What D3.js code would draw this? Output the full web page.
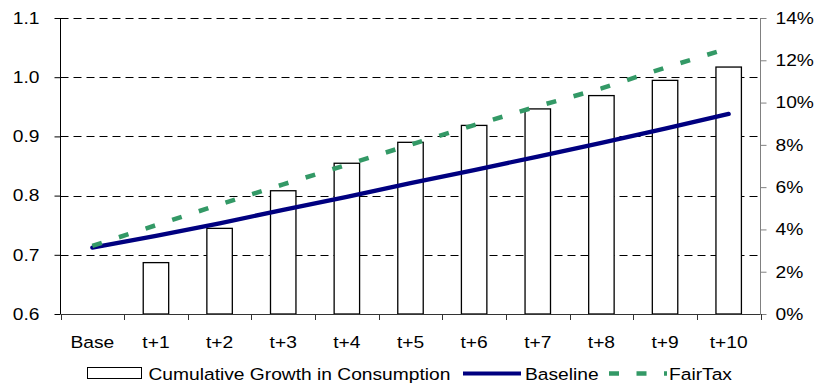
<!DOCTYPE html>
<html>
<head>
<meta charset="utf-8">
<script src="https://cdn.jsdelivr.net/npm/d3@7"></script>
<style>
  html, body { margin: 0; padding: 0; background: #fff; }
  svg { display: block; }
  text { font-family: "Liberation Sans", Arial, sans-serif; font-size: 16.7px; fill: #000; }
</style>
</head>
<body>
<svg id="chart" width="814" height="385"></svg>
<script>
// Categories along the horizontal axis
const categories = ["Base", "t+1", "t+2", "t+3", "t+4", "t+5", "t+6", "t+7", "t+8", "t+9", "t+10"];
// Cumulative growth in consumption, percent (right axis); no bar at Base
const consumptionGrowth = [null, 2.43, 4.05, 5.83, 7.13, 8.12, 8.92, 9.70, 10.33, 11.05, 11.68];
// Index levels (left axis)
const baseline = [0.712, 0.732, 0.753, 0.776, 0.798, 0.821, 0.843, 0.866, 0.889, 0.913, 0.938];
const fairTax  = [0.715, 0.750, 0.785, 0.819, 0.852, 0.886, 0.919, 0.951, 0.981, 1.016, 1.049];
// Tick values
const leftTicks  = [0.6, 0.7, 0.8, 0.9, 1.0, 1.1];
const rightTicks = [0, 2, 4, 6, 8, 10, 12, 14];
// Legend labels
const legendLabels = ["Cumulative Growth in Consumption", "Baseline", "FairTax"];

const SX = 1.15; // horizontal stretch of the lettering
const svg = d3.select("#chart");
const plot = { left: 60.5, right: 760.5, top: 18, bottom: 314 };

const x = d3.scaleBand().domain(categories).range([plot.left, plot.right]).paddingInner(0).paddingOuter(0);
const yL = d3.scaleLinear().domain([0.6, 1.1]).range([plot.bottom, plot.top]);
const yR = d3.scaleLinear().domain([0, 14]).range([plot.bottom, plot.top]);
const cx = c => x(c) + x.bandwidth() / 2;

// Dashed horizontal gridlines
svg.append("g")
  .selectAll("line")
  .data(leftTicks.slice(1))
  .join("line")
  .attr("x1", plot.left).attr("x2", plot.right)
  .attr("y1", d => Math.round(yL(d)) + 0.5).attr("y2", d => Math.round(yL(d)) + 0.5)
  .attr("stroke", "#000").attr("stroke-width", 1)
  .attr("stroke-dasharray", "8,5");

// Bars: cumulative growth (right axis)
const barData = categories.map((c, i) => ({ c, v: consumptionGrowth[i] })).filter(d => d.v != null);
svg.append("g")
  .selectAll("rect")
  .data(barData)
  .join("rect")
  .attr("x", d => x(d.c) + x.bandwidth() * 0.3)
  .attr("width", x.bandwidth() * 0.4)
  .attr("y", d => yR(d.v))
  .attr("height", d => yR(0) - yR(d.v))
  .attr("fill", "#fff")
  .attr("stroke", "#000")
  .attr("stroke-width", 1.3);

function stretchText(sel, xOff) {
  sel.selectAll("text")
    .attr("x", xOff / SX)
    .attr("transform", `scale(${SX},1)`)
    .style("font-size", "16.7px")
    .style("font-family", '"Liberation Sans", Arial, sans-serif')
    .attr("fill", "#000");
}

// Left axis
const gL = svg.append("g").attr("transform", `translate(${plot.left},0)`)
  .call(d3.axisLeft(yL).tickValues(leftTicks).tickFormat(d3.format(".1f")).tickSize(6).tickPadding(15));
gL.select(".domain").attr("stroke", "#000").attr("d", `M0,${plot.top}V${plot.bottom}`);
gL.selectAll(".tick line").attr("stroke", "#000");
stretchText(gL, -21);

// Right axis
const gR = svg.append("g").attr("transform", `translate(${plot.right},0)`)
  .call(d3.axisRight(yR).tickValues(rightTicks).tickFormat(d => d + "%").tickSize(6).tickPadding(9));
gR.select(".domain").attr("stroke", "#808080").attr("d", `M0,${plot.top}V${plot.bottom}`);
gR.selectAll(".tick line").attr("stroke", "#808080");
stretchText(gR, 15);

// Bottom axis: category labels centred in each band, ticks on band boundaries
const gB = svg.append("g").attr("transform", `translate(0,${plot.bottom})`)
  .call(d3.axisBottom(x).tickSize(0).tickPadding(22));
gB.select(".domain").remove();
stretchText(gB, 0);
svg.append("line")
  .attr("x1", plot.left).attr("x2", plot.right)
  .attr("y1", plot.bottom + 0.5).attr("y2", plot.bottom + 0.5)
  .attr("stroke", "#333").attr("stroke-width", 1);
svg.append("g")
  .selectAll("line")
  .data(categories.map(c => x(c)).concat([plot.right]))
  .join("line")
  .attr("x1", d => Math.round(d) + 0.5).attr("x2", d => Math.round(d) + 0.5)
  .attr("y1", plot.bottom).attr("y2", plot.bottom + 6)
  .attr("stroke", "#333");

// Lines (left axis)
const lineGen = d3.line().x(d => cx(d.c)).y(d => yL(d.v));
svg.append("path")
  .datum(categories.map((c, i) => ({ c, v: baseline[i] })))
  .attr("d", lineGen)
  .attr("fill", "none")
  .attr("stroke", "#000080")
  .attr("stroke-width", 4.3)
  .attr("stroke-linecap", "round")
  .attr("stroke-linejoin", "round");
svg.append("path")
  .datum(categories.map((c, i) => ({ c, v: fairTax[i] })))
  .attr("d", lineGen)
  .attr("fill", "none")
  .attr("stroke", "#339966")
  .attr("stroke-width", 4.5)
  .attr("stroke-dasharray", "10,18");

// Legend
const leg = svg.append("g");
const legY = 373.5;
function legendText(xPos, label) {
  leg.append("text")
    .attr("transform", `translate(${xPos},${legY + 6}) scale(${SX},1)`)
    .text(label);
}
leg.append("rect")
  .attr("x", 87.5).attr("y", 367.5).attr("width", 54).attr("height", 11)
  .attr("fill", "#fff").attr("stroke", "#000").attr("stroke-width", 1);
legendText(148.5, legendLabels[0]);
leg.append("line")
  .attr("x1", 463).attr("x2", 521).attr("y1", legY).attr("y2", legY)
  .attr("stroke", "#000080").attr("stroke-width", 4);
legendText(525, legendLabels[1]);
leg.append("line")
  .attr("x1", 609).attr("x2", 667).attr("y1", legY).attr("y2", legY)
  .attr("stroke", "#339966").attr("stroke-width", 4.5)
  .attr("stroke-dasharray", "10,17.5");
legendText(669, legendLabels[2]);
</script>
</body>
</html>
